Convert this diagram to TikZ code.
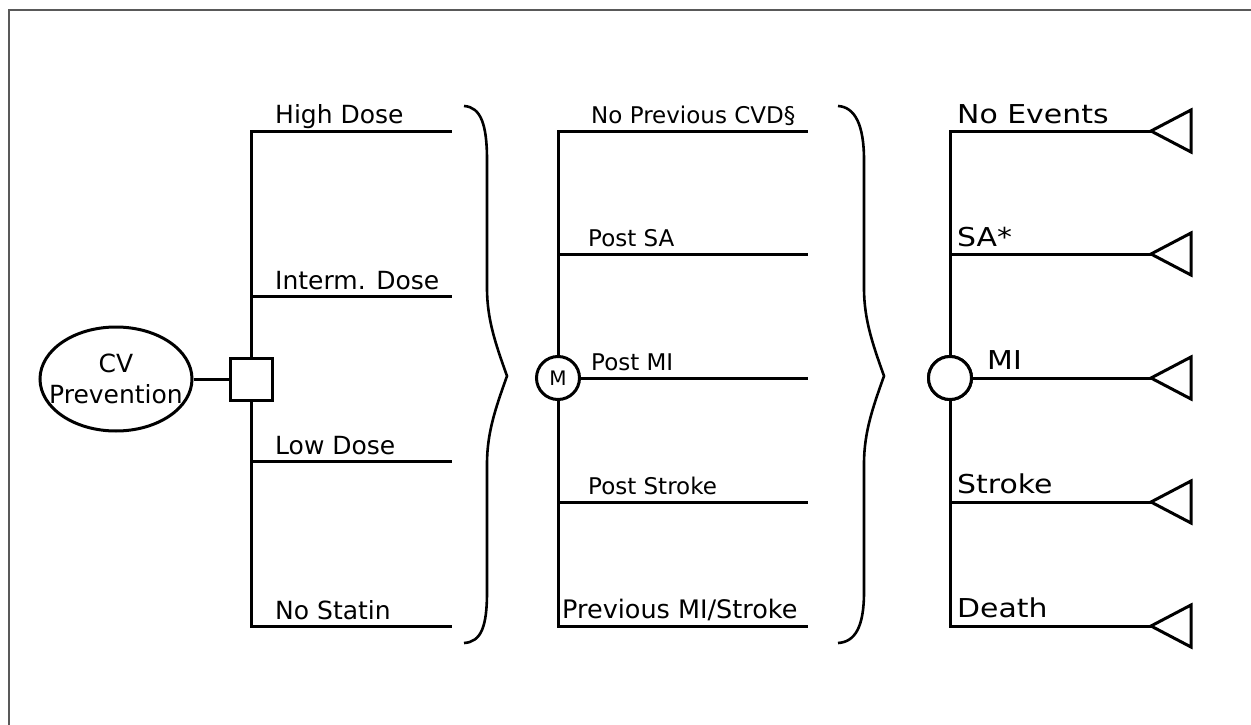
\documentclass[tikz,border=0pt]{standalone}
\usepackage{fontspec}
\setmainfont{DejaVu Sans}
\newfontfamily\widesans[FakeStretch=1.15]{DejaVu Sans}
\usetikzlibrary{shapes.geometric}
\tikzset{
	treeline/.style={line width=3pt},
	bigtext/.style={font=\fontsize{25}{31}\selectfont, anchor=base west, inner sep=0pt},
	smalltext/.style={font=\fontsize{23}{27}\selectfont, anchor=base west, inner sep=0pt},
	endtext/.style={font=\widesans\fontsize{26}{31}\selectfont, anchor=base west, inner sep=0pt},
	chance/.style={draw, circle, treeline, fill=white, minimum size=43pt, inner sep=0pt},
}
\begin{document}
\begin{tikzpicture}[x=1pt,y=-1pt]
		\useasboundingbox (0,0) rectangle (1251,725);
		\draw[line width=1.3pt, gray!70!black] (9,725) -- (9,10) -- (1251,10);
		\node[draw, ellipse, treeline, minimum width=152pt, minimum height=104pt, inner xsep=-14pt, inner ysep=0pt, align=center, font=\fontsize{25}{31}\selectfont] (root) at (116,379) {CV\\Prevention};
		\node[draw, treeline, fill=white, minimum size=42pt, inner sep=0pt] (dec) at (251,379) {};
		\draw[treeline] (root) -- (dec);
		\coordinate (hd) at (452,131);
		\coordinate (id) at (452,296);
		\coordinate (ld) at (452,461);
		\coordinate (ns) at (452,626);
		\draw[treeline] (dec.north) |- (hd);
		\draw[treeline] (dec.south) |- (ns);
		\draw[treeline] (id -| dec) -- (id);
		\draw[treeline] (ld -| dec) -- (ld);
		\node[bigtext] (hdtext) at (275,124) {High Dose};
		\node[bigtext] (idtext) at (275,289) {Interm. Dose};
		\node[bigtext] (ldtext) at (275,454) {Low Dose};
		\node[bigtext] (nstext) at (275,619) {No Statin};
		\draw[line width=2.6pt] (464,106) .. controls (481,107) and (487,125) .. (487,160) -- (487,288) .. controls (487,320) and (496,345) .. (507,376) .. controls (496,407) and (487,432) .. (487,464) -- (487,592) .. controls (487,627) and (481,642) .. (464,643);
		\node[chance, font=\fontsize{20}{24}\selectfont] (mark) at (558,378) {M};
		\coordinate (pn) at (808,131);
		\coordinate (ps) at (808,254);
		\coordinate (pm) at (808,378);
		\coordinate (pk) at (808,502);
		\coordinate (pp) at (808,626);
		\draw[treeline] (mark.north) |- (pn);
		\draw[treeline] (mark.south) |- (pp);
		\draw[treeline] (ps -| mark) -- (ps);
		\draw[treeline] (mark) -- (pm);
		\draw[treeline] (pk -| mark) -- (pk);
		\node[smalltext] (pntext) at (591,123) {No Previous CVD§};
		\node[smalltext] (pstext) at (588,246) {Post SA};
		\node[smalltext] (pmtext) at (591,370) {Post MI};
		\node[smalltext] (pktext) at (588,494) {Post Stroke};
		\node[smalltext, font=\fontsize{25.5}{30}\selectfont] (pptext) at (562,618) {Previous MI/Stroke};
		\draw[line width=2.6pt] (838,106) .. controls (855,107) and (864,125) .. (864,160) -- (864,288) .. controls (864,320) and (873,345) .. (884,376) .. controls (873,407) and (864,432) .. (864,464) -- (864,592) .. controls (864,627) and (855,642) .. (838,643);
		\node[chance] (event) at (950,378) {};
		\coordinate (ne) at (1151,131);
		\coordinate (sa) at (1151,254);
		\coordinate (mi) at (1151,378);
		\coordinate (st) at (1151,502);
		\coordinate (de) at (1151,626);
		\draw[treeline] (event.north) |- (ne);
		\draw[treeline] (event.south) |- (de);
		\draw[treeline] (sa -| event) -- (sa);
		\draw[treeline] (event) -- (mi);
		\draw[treeline] (st -| event) -- (st);
		\foreach \t in {ne,sa,mi,st,de}
			\draw[treeline, line join=miter] (\t) -- ++(40,-21) -- ++(0,42) -- cycle;
		\node[endtext] (netext) at (957,123) {No Events};
		\node[endtext] (satext) at (957,246) {SA*};
		\node[endtext] (mitext) at (987,369) {MI};
		\node[endtext] (sttext) at (957,493) {Stroke};
		\node[endtext] (detext) at (957,617) {Death};
		\node[chance] at (event) {};
\end{tikzpicture}
\end{document}
